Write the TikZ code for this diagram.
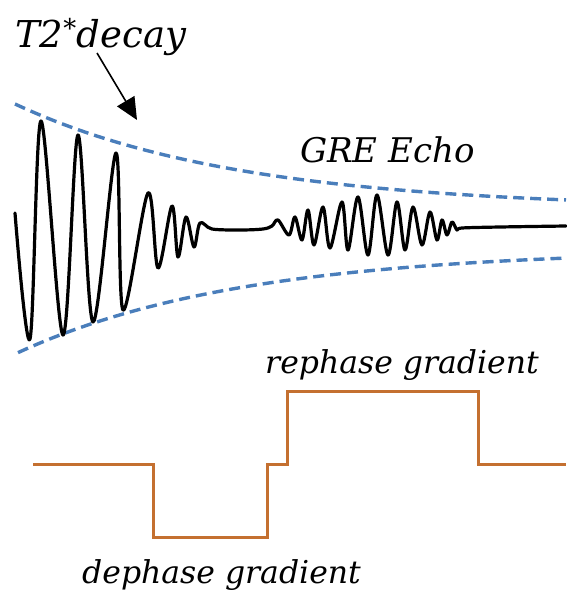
\documentclass[tikz,border=0pt]{standalone}
\usepackage{fontspec}
\setmainfont{DejaVu Serif}
\usetikzlibrary{arrows.meta}
\definecolor{envblue}{RGB}{74,126,187}
\definecolor{gradorange}{RGB}{196,112,48}
\tikzset{
  lbl/.style={inner sep=0pt, anchor=base west, font=\itshape},
  envelope/.style={envblue, line width=3.4pt, dash pattern=on 11pt off 6pt},
  signal/.style={black, line width=3.2pt, line join=round, line cap=round},
  gradline/.style={gradorange, line width=3pt, line join=miter},
}
\begin{document}
\begin{tikzpicture}[x=1pt, y=-1pt]
\useasboundingbox (0,0) rectangle (566,597);
% labels
\node[lbl, font=\itshape\fontsize{37}{40}\selectfont] (t2) at (15,47) {T2\textsuperscript{*}decay};
\node[lbl, font=\itshape\fontsize{34}{38}\selectfont] (gre) at (300,162) {GRE Echo};
\node[lbl, font=\itshape\fontsize{31.5}{34}\selectfont] (reph) at (265,373) {rephase gradient};
\node[lbl, font=\itshape\fontsize{31.5}{34}\selectfont] (deph) at (82,583) {dephase gradient};
% envelopes
\draw[envelope] plot[domain=15:566, samples=80] (\x, {209-105*exp(-(\x-15)/225)});
\draw[envelope] plot[domain=18:566, samples=80] (\x, {249+105*exp(-(\x-15)/225)});
% arrow
\coordinate (atip) at (137,120);
\coordinate (atail) at (97,53);
\draw[line width=1.6pt, -{Triangle[length=22pt,width=20pt]}] (atail) -- (atip);
% signal
\draw[signal] plot[smooth, tension=0.55] coordinates {
 (15,213) (30,339) (41,121) (63,335) (78,135) (93,322) (116,153) (123,310)
 (148,193) (158,268) (172,206) (178,257) (186,217) (194,247) (200,223)
 (212,229) (240,230) (263,229) (272,226) (278,220) (289,235)
 (295,217) (302,240) (308,210) (314,245) (323,207) (330,248) (342,202)
 (348,250) (358,197) (368,255) (377,195) (388,255) (397,202) (405,250)
 (413,207) (422,245) (430,212) (437,240) (442,220) (447,235) (452,222)
 (457,230) (462,228) (500,227) (566,226)};
% gradient waveform
\coordinate (g0) at (33,464);
\coordinate (g1) at (566,464);
\draw[gradline] (g0) -- (153,464) -- (153,537) -- (267,537) -- (267,464)
  -- (287,464) -- (287,391) -- (478,391) -- (478,464) -- (g1);
\end{tikzpicture}
\end{document}
